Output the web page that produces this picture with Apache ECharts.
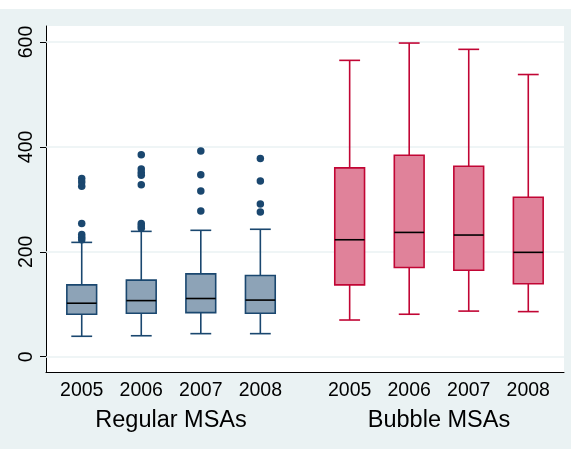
<!DOCTYPE html>
<html>
<head>
<meta charset="utf-8">
<script src="https://cdn.jsdelivr.net/npm/echarts@6/dist/echarts.min.js"></script>
<style>
html,body{margin:0;padding:0;background:#ffffff;}
#chart{position:absolute;left:0;top:9px;width:571px;height:440px;}
</style>
</head>
<body>
<div id="chart"></div>
<script>
// ---- data ----
const years = ['2005', '2006', '2007', '2008'];
const groupNames = ['Regular MSAs', 'Bubble MSAs'];
const regularPos = [0, 1, 2, 3];
const bubblePos = [4.5, 5.5, 6.5, 7.5];
const groupCenters = [1.5, 6];
// [lower whisker, q1, median, q3, upper whisker]
const regularBoxes = [
  [39, 81, 102, 137, 218],
  [40, 83, 107, 146, 239],
  [44, 84, 111, 158, 241],
  [44, 83, 108, 155, 243]
];
const bubbleBoxes = [
  [70, 137, 223, 360, 565],
  [81, 170, 237, 384, 598],
  [87, 165, 232, 363, 586],
  [86, 139, 199, 304, 538]
];
const regularOutliers = [
  [340, 333, 325, 254, 233, 228, 223],
  [385, 358, 351, 346, 328, 254, 249, 245],
  [392, 347, 316, 278],
  [378, 335, 291, 276]
];
const yTicks = [0, 200, 400, 600];

// ---- build ----
const tickPos = regularPos.concat(bubblePos);
const tickText = years.concat(years);

function boxData(pos, boxes) {
  return boxes.map((b, i) => [pos[i]].concat(b));
}
const outlierData = [];
regularOutliers.forEach((arr, i) => arr.forEach(v => outlierData.push([regularPos[i], v])));

function makeRender(stroke, fill) {
  return function (params, api) {
    const x = api.value(0);
    const pLow = api.coord([x, api.value(1)]);
    const pQ1 = api.coord([x, api.value(2)]);
    const pMed = api.coord([x, api.value(3)]);
    const pQ3 = api.coord([x, api.value(4)]);
    const pHigh = api.coord([x, api.value(5)]);
    const bw = api.size([0.5, 0])[0];
    const cw = api.size([0.35, 0])[0];
    const cx = pLow[0];
    const lw = 1.6;
    const ls = {stroke: stroke, lineWidth: lw};
    return {
      type: 'group',
      children: [
        {type: 'line', shape: {x1: cx, y1: pLow[1], x2: cx, y2: pQ1[1]}, style: ls},
        {type: 'line', shape: {x1: cx, y1: pQ3[1], x2: cx, y2: pHigh[1]}, style: ls},
        {type: 'line', shape: {x1: cx - cw / 2, y1: pLow[1], x2: cx + cw / 2, y2: pLow[1]}, style: ls},
        {type: 'line', shape: {x1: cx - cw / 2, y1: pHigh[1], x2: cx + cw / 2, y2: pHigh[1]}, style: ls},
        {type: 'rect', shape: {x: cx - bw / 2, y: pQ3[1], width: bw, height: pQ1[1] - pQ3[1]},
          style: {fill: fill, stroke: stroke, lineWidth: lw}},
        {type: 'line', shape: {x1: cx - bw / 2, y1: pMed[1], x2: cx + bw / 2, y2: pMed[1]},
          style: {stroke: '#000000', lineWidth: 1.6}}
      ]
    };
  };
}

const font = 'Liberation Sans, Arial, Helvetica, sans-serif';
const chart = echarts.init(document.getElementById('chart'), null, {renderer: 'canvas'});
chart.setOption({
  backgroundColor: '#EAF2F3',
  animation: false,
  grid: {left: 46, right: 7, top: 17, bottom: 77, show: true, backgroundColor: '#ffffff', borderWidth: 0},
  xAxis: [{
    type: 'value', min: -0.6, max: 8.1,
    axisLine: {show: true, onZero: false, lineStyle: {color: '#000000', width: 1}},
    axisTick: {show: false},
    splitLine: {show: false},
    axisLabel: {
      customValues: tickPos, margin: 9, fontSize: 19.5, color: '#000000', fontFamily: font,
      formatter: v => { const i = tickPos.indexOf(v); return i >= 0 ? tickText[i] : ''; }
    }
  }, {
    type: 'value', min: -0.6, max: 8.1, position: 'bottom',
    axisLine: {show: false}, axisTick: {show: false}, splitLine: {show: false},
    axisLabel: {
      customValues: groupCenters, margin: 37, fontSize: 23.5, color: '#000000', fontFamily: font,
      formatter: v => { const i = groupCenters.indexOf(v); return i >= 0 ? groupNames[i] : ''; }
    }
  }],
  yAxis: {
    type: 'value', min: -29.1, max: 630.5,
    axisLine: {show: true, onZero: false, lineStyle: {color: '#000000', width: 1}},
    axisTick: {show: true, customValues: yTicks, length: 6, lineStyle: {color: '#000000', width: 1}},
    splitLine: {show: false},
    axisLabel: {
      customValues: yTicks, rotate: 90, margin: 9, fontSize: 19.5, color: '#000000', fontFamily: font
    }
  },
  series: [
    {
      type: 'scatter', data: [], silent: true, z: 1,
      markLine: {
        silent: true, z: 1, symbol: ['none', 'none'], label: {show: false},
        lineStyle: {color: '#EAF2F3', width: 1.6, type: 'solid'},
        emphasis: {disabled: true},
        data: yTicks.map(v => ({yAxis: v}))
      }
    },
    {type: 'custom', renderItem: makeRender('#1A476F', '#8DA3B7'), data: boxData(regularPos, regularBoxes), silent: true, z: 3},
    {type: 'custom', renderItem: makeRender('#C10534', '#E0829A'), data: boxData(bubblePos, bubbleBoxes), silent: true, z: 3},
    {type: 'scatter', data: outlierData, symbol: 'circle', symbolSize: 7.5,
      itemStyle: {color: '#1A476F', opacity: 1}, silent: true, z: 4}
  ]
});
</script>
</body>
</html>
